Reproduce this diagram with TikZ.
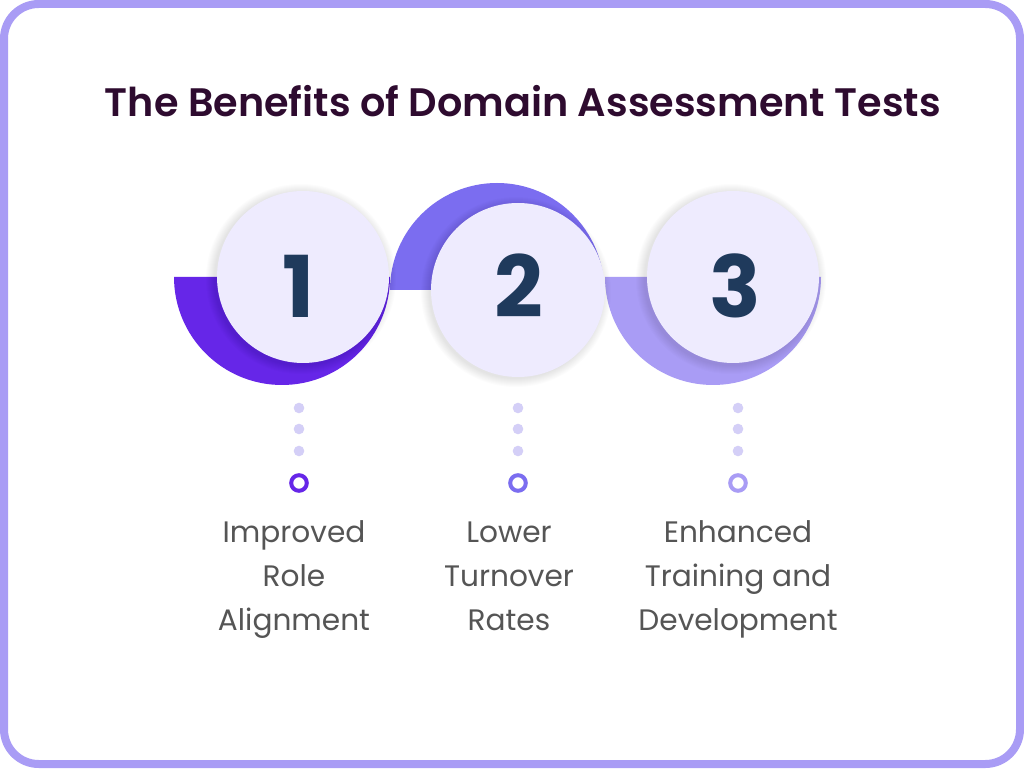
\documentclass[tikz,border=0pt]{standalone}
\usepackage{fontspec}
\setmainfont{Poppins}
\newfontfamily\titlefont{Poppins SemiBold}
\newfontfamily\bodyfont{Poppins}
\usepackage{xcolor}
\usetikzlibrary{positioning}
\definecolor{frameLav}{HTML}{A99CF5}
\definecolor{violetA}{HTML}{6626E8}
\definecolor{violetB}{HTML}{7B6DF0}
\definecolor{violetC}{HTML}{A99CF5}
\definecolor{diskFill}{HTML}{EEEBFE}
\definecolor{numNavy}{HTML}{1F3A5C}
\definecolor{titlePlum}{HTML}{2E0B2F}
\definecolor{dotLav}{HTML}{D4CFF7}
\definecolor{textGrey}{HTML}{555555}

\begin{document}
\begin{tikzpicture}[
    x=0.75pt, y=0.75pt,
    disk/.style={circle, fill=diskFill, minimum size=129pt, inner sep=0pt},
    numtext/.style={font=\fontsize{64}{64}\selectfont\bfseries, text=numNavy, inner sep=0pt},
    benefit/.style={font=\bodyfont\fontsize{22.2}{33}\selectfont, text=textGrey, align=center, inner sep=0pt},
    headline/.style={font=\titlefont\fontsize{29.8}{35}\selectfont, text=titlePlum, inner sep=0pt},
    smalldot/.style={fill=dotLav},
    ringdot/.style={line width=3pt, fill=white}
]
\useasboundingbox (0,0) rectangle (1024,768);
\fill[white] (0,0) rectangle (1024,768);
\draw[frameLav, line width=6pt, fill=white, rounded corners=26pt] (4,4) rectangle (1020,764);

\node[headline] (title) at (523,667) {The Benefits of Domain Assessment Tests};

% half discs behind the numbers
\fill[violetA] (174,491) arc[start angle=180, end angle=360, radius=108] -- cycle;
\fill[violetB] (390,478) arc[start angle=180, end angle=0, radius=107] -- cycle;
\fill[violetC] (605,491) arc[start angle=180, end angle=360, radius=108] -- cycle;

% soft shadows
\foreach \cx/\cy in {303/491, 518/478, 733/491}
  \foreach \k in {1,...,9}
    \fill[black, opacity=0.012] (\cx-2,\cy-2) circle[radius=86+\k];

\node[disk] (d1) at (303,491) {};
\node[disk, minimum size=130.5pt] (d2) at (518,478) {};
\node[disk] (d3) at (733,491) {};

\node[numtext] (n1) at (299,482) {1};
\node[numtext] (n2) at (519,482) {2};
\node[numtext] (n3) at (735,482) {3};

% dotted stems and rings
\foreach \cx/\col in {299/violetA, 518/violetB, 738/violetC} {
  \foreach \dy in {360, 339, 317}
    \fill[smalldot] (\cx,\dy) circle[radius=5.3];
  \draw[ringdot, draw=\col] (\cx,285) circle[radius=7.8];
}

\node[benefit] (b1) at (294,190) {Improved\strut\\Role\strut\\Alignment\strut};
\node[benefit] (b2) at (509,190) {Lower\strut\\Turnover\strut\\Rates\strut};
\node[benefit] (b3) at (738,190) {Enhanced\strut\\Training and\strut\\Development\strut};
\end{tikzpicture}
\end{document}
